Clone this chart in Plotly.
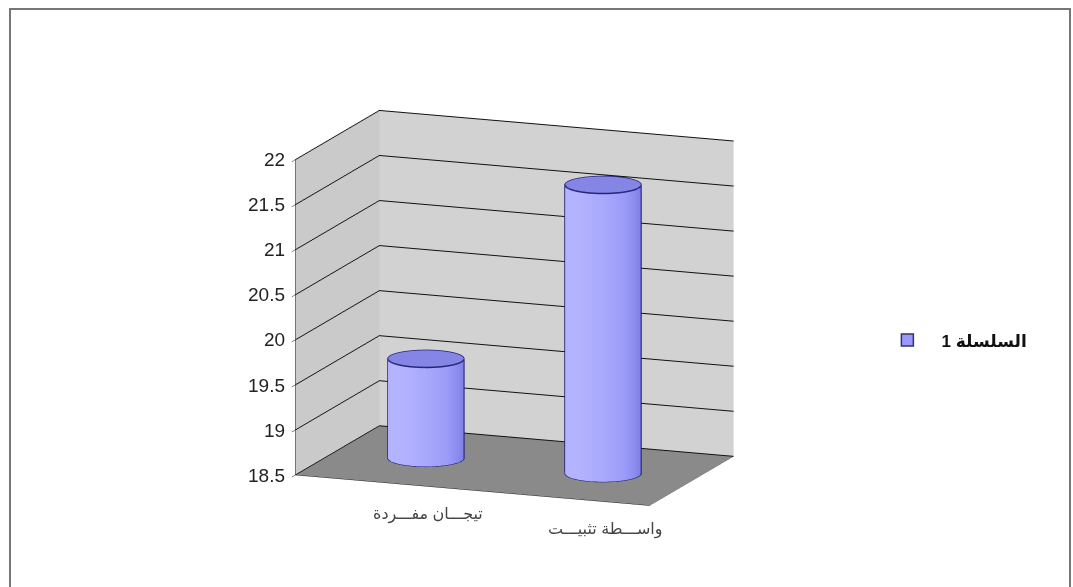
import numpy as np
import plotly.graph_objects as go

# Chart data
categories = ["تيجـــان مفـــردة", "واســـطة تثبيـــت"]
values = [19.6, 21.7]
series_name = "السلسلة 1"
z_ticks = [18.5, 19, 19.5, 20, 20.5, 21, 21.5, 22]

Z_MIN, Z_MAX = 18.5, 22
X_RANGE = [-0.5, 1.5]
Y_RANGE = [-0.5, 0.5]
ASPECT = dict(x=1.36, y=0.84, z=1.16)

BAR_FILL = "#9999ff"
BAR_EDGE = "#23237a"
TOP_FILL = "#8585e6"

# radius in x units, converted so the cross-section stays circular
R_X = 0.2
R_Y = R_X * (ASPECT["x"] / (X_RANGE[1] - X_RANGE[0])) / (ASPECT["y"] / (Y_RANGE[1] - Y_RANGE[0]))

# camera: ~21 deg rotation, ~13 deg elevation
ROT, ELEV, DIST = np.deg2rad(21), np.deg2rad(13), 2.5
EYE = dict(x=DIST * np.sin(ROT) * np.cos(ELEV),
           y=-DIST * np.cos(ROT) * np.cos(ELEV),
           z=DIST * np.sin(ELEV))

fig = go.Figure()

theta = np.linspace(0, 2 * np.pi, 73)
# side shading: lighter towards the front-left, darker to the right
shade = np.cos(theta - np.deg2rad(235))

view_ang = np.arctan2(EYE["y"] / ASPECT["y"], EYE["x"] / ASPECT["x"])
sil = [view_ang + np.pi / 2, view_ang - np.pi / 2]

flat = dict(ambient=1, diffuse=0, specular=0, fresnel=0)

for i, v in enumerate(values):
    xc, yc = i, 0.0
    zz = np.array([Z_MIN, v])
    TH, ZZ = np.meshgrid(theta, zz)
    X = xc + R_X * np.cos(TH)
    Y = yc + R_Y * np.sin(TH)
    S = np.tile(shade, (2, 1))
    fig.add_trace(go.Surface(
        x=X, y=Y, z=ZZ, surfacecolor=S, cmin=-1, cmax=1,
        colorscale=[[0, "#7474dc"], [0.5, "#9b9bfa"], [1, "#b3b3ff"]],
        showscale=False, hoverinfo="skip", showlegend=False, lighting=flat,
    ))
    # top cap
    rr = np.linspace(0, 1, 2)
    RR, TT = np.meshgrid(rr, theta)
    fig.add_trace(go.Surface(
        x=xc + R_X * RR * np.cos(TT), y=yc + R_Y * RR * np.sin(TT),
        z=np.full(RR.shape, v), surfacecolor=np.zeros(RR.shape),
        colorscale=[[0, TOP_FILL], [1, TOP_FILL]], showscale=False,
        hoverinfo="skip", showlegend=False, lighting=flat,
    ))
    # rims
    for zr in (Z_MIN, v):
        fig.add_trace(go.Scatter3d(
            x=xc + R_X * np.cos(theta), y=yc + R_Y * np.sin(theta),
            z=np.full(theta.shape, zr), mode="lines",
            line=dict(color=BAR_EDGE, width=3), hoverinfo="skip", showlegend=False,
        ))
    for a in sil:
        fig.add_trace(go.Scatter3d(
            x=[xc + R_X * 1.01 * np.cos(a)] * 2, y=[yc + R_Y * 1.01 * np.sin(a)] * 2,
            z=[Z_MIN, v], mode="lines",
            line=dict(color=BAR_EDGE, width=3), hoverinfo="skip", showlegend=False,
        ))

# legend entry
fig.add_trace(go.Scatter3d(
    x=[None], y=[None], z=[None], mode="markers",
    name="\u00a0\u00a0\u00a0<b>" + series_name + "</b>",
    marker=dict(symbol="square", size=12, color=BAR_FILL, line=dict(color="#333366", width=1.5)),
    showlegend=True,
))

# value labels along the front-left edge, category labels under the front edge
scene_notes = [
    dict(x=X_RANGE[0], y=Y_RANGE[0], z=t, text=f"{t:g}", showarrow=False,
         xanchor="right", yanchor="middle", xshift=-9,
         font=dict(size=19, color="#222222"))
    for t in z_ticks
] + [
    dict(x=i, y=Y_RANGE[0], z=Z_MIN, text=c, showarrow=False,
         xanchor="center", yanchor="middle", xshift=44, yshift=-32,
         font=dict(size=16, color="#444444"))
    for i, c in enumerate(categories)
]

axis_common = dict(showspikes=False, zeroline=False, title=dict(text=""), tickangle=0)

fig.update_layout(
    width=1073, height=587,
    margin=dict(l=0, r=0, t=0, b=0),
    paper_bgcolor="white",
    font=dict(family="Liberation Sans, DejaVu Sans, Arial", color="#222222"),
    showlegend=True,
    legend=dict(x=0.827, y=0.42, xanchor="left", yanchor="middle",
                font=dict(size=17, color="#111111"), bgcolor="rgba(0,0,0,0)"),
    scene=dict(
        domain=dict(x=[0.17, 0.79], y=[0.0, 0.95]),
        xaxis=dict(range=X_RANGE, tickvals=[0, 1], showticklabels=False,
                   showbackground=True, backgroundcolor="#cacaca",
                   showgrid=False, ticks="", showline=True, linecolor="#222",
                   **axis_common),
        yaxis=dict(range=Y_RANGE, showticklabels=False, showbackground=True,
                   backgroundcolor="#d2d2d2", showgrid=False, ticks="",
                   showline=True, linecolor="#777", **axis_common),
        zaxis=dict(range=[Z_MIN, Z_MAX], tickvals=z_ticks, showticklabels=False,
                   showbackground=True, backgroundcolor="#8a8a8a",
                   showgrid=True, gridcolor="#111111", gridwidth=2,
                   ticks="outside", ticklen=6, tickcolor="#111",
                   showline=True, linecolor="#111", **axis_common),
        aspectmode="manual", aspectratio=ASPECT,
        camera=dict(eye=EYE, center=dict(x=0, y=0, z=0),
                    projection=dict(type="orthographic")),
        annotations=scene_notes,
    ),
    shapes=[dict(type="rect", xref="paper", yref="paper",
                 x0=10 / 1073, x1=1070 / 1073, y0=-0.05, y1=1 - 9 / 587,
                 line=dict(color="#777777", width=2))],
)

fig.write_html("out.html")
